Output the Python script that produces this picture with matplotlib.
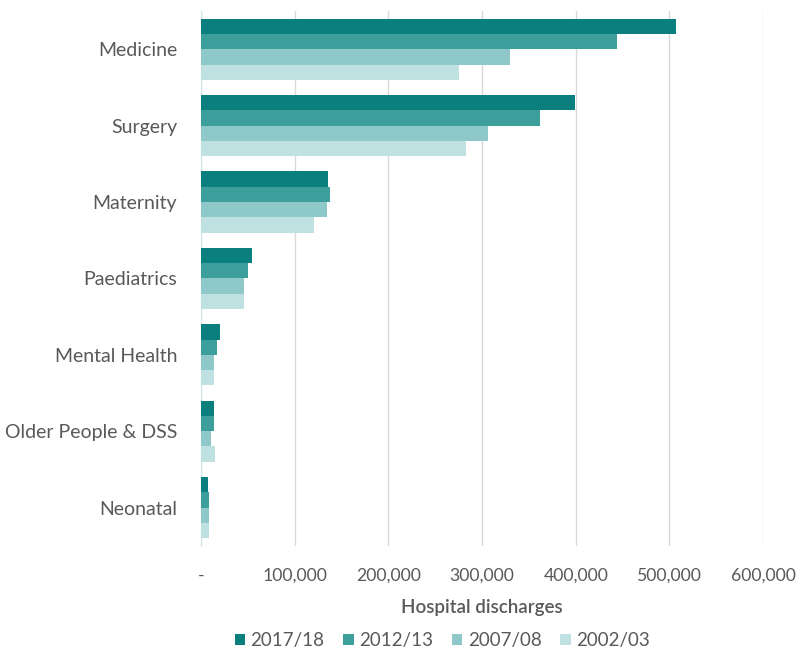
import numpy as np
import matplotlib.pyplot as plt
from matplotlib.ticker import FuncFormatter

plt.rcParams['font.family'] = ['Lato', 'DejaVu Sans']

specialties = ['Medicine', 'Surgery', 'Maternity', 'Paediatrics',
               'Mental Health', 'Older People & DSS', 'Neonatal']
years = ['2017/18', '2012/13', '2007/08', '2002/03']

d_2017 = [507000, 399000, 136000, 55000, 20000, 14000, 8000]
d_2012 = [444000, 362000, 138000, 50000, 17000, 14000, 9000]
d_2007 = [330000, 306000, 135000, 46000, 14000, 11000, 9000]
d_2002 = [275000, 283000, 121000, 46000, 14000, 15000, 9000]

colors = ['#0a7f7d', '#3d9f9c', '#8ec8c9', '#c0e1e1']
text_col = '#595959'

fig = plt.figure(figsize=(8, 6.52), dpi=100)
ax = fig.add_axes([0.251, 0.163, 0.703, 0.82])

y = np.arange(len(specialties))
h = 0.2
series = [d_2017, d_2012, d_2007, d_2002]
for i, vals in enumerate(series):
    ax.barh(y - 1.5 * h + i * h, vals, height=h, color=colors[i],
            label=years[i], zorder=3)

ax.set_ylim(len(specialties) - 0.5, -0.5)
ax.set_xlim(0, 600000)
ax.set_yticks(y)
ax.set_yticklabels(specialties, fontsize=14)
ax.set_xticks(np.arange(0, 600001, 100000))


def fmt(v, pos):
    return '-' if v == 0 else f'{int(v):,}'


ax.xaxis.set_major_formatter(FuncFormatter(fmt))
ax.tick_params(axis='both', length=0, colors=text_col)
ax.tick_params(axis='x', pad=16, labelsize=12.7)
ax.tick_params(axis='y', pad=17)
ax.grid(axis='x', color='#d9d9d9', linewidth=1, zorder=0)
for s in ['top', 'right', 'bottom']:
    ax.spines[s].set_visible(False)
ax.spines['left'].set_color('#cfe6ea')
ax.set_xlabel('Hospital discharges', fontsize=13.5, color=text_col,
              fontweight='semibold', labelpad=11)

# legend row under the axis title
leg = fig.legend(loc='lower center', bbox_to_anchor=(0.553, -0.022), ncol=4,
                 frameon=False, fontsize=13.5, handlelength=0.55,
                 handleheight=0.55, handletextpad=0.3, columnspacing=1.0)
for t in leg.get_texts():
    t.set_color(text_col)

fig.savefig('out.png', dpi=100, facecolor='white')
